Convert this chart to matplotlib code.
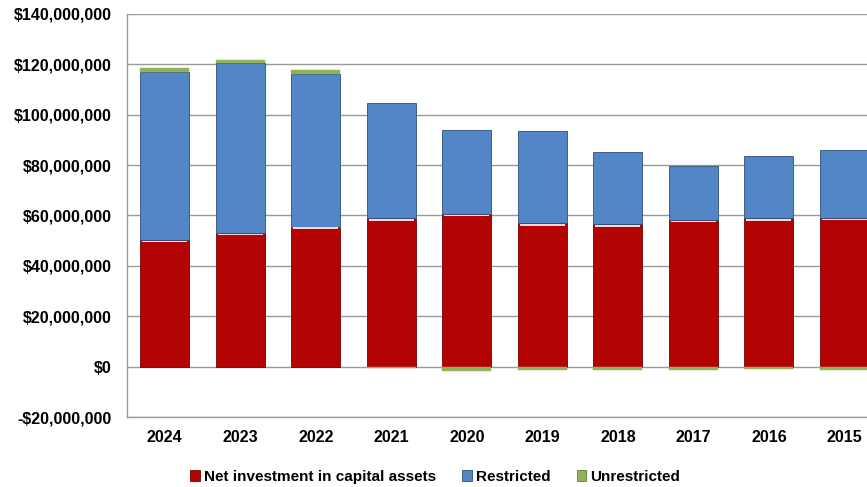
import numpy as np
import matplotlib
matplotlib.use("Agg")
import matplotlib.pyplot as plt
from matplotlib.patches import Patch
from matplotlib.ticker import FuncFormatter

# Net position by fiscal year (millions of dollars)
years = ["2024", "2023", "2022", "2021", "2020", "2019", "2018", "2017", "2016", "2015"]
net_investment = [50.3, 53.0, 55.6, 58.9, 60.6, 56.9, 56.5, 58.2, 58.9, 59.1]
restricted = [66.8, 67.7, 60.6, 45.8, 33.3, 36.5, 28.6, 21.5, 24.7, 26.8]
unrestricted = [1.3, 1.0, 1.5, -0.5, -1.7, -1.5, -1.5, -1.5, -1.0, -1.2]

series_names = ["Net investment in capital assets", "Restricted", "Unrestricted"]
colors = ["#B30303", "#5286C7", "#8FB356"]
edge_colors = ["#7A0000", "#2E4F78", "#5E7A33"]

plt.rcParams["font.family"] = ["Liberation Sans", "DejaVu Sans"]
plt.rcParams["font.weight"] = "bold"

fig = plt.figure(figsize=(8.67, 4.87), dpi=100)
ax = fig.add_axes([0.1465, 0.1437, 0.871, 0.8276])

x = np.arange(len(years))
width = 0.65

net = np.array(net_investment) * 1e6
res = np.array(restricted) * 1e6
unr = np.array(unrestricted) * 1e6

# positive values stack upward, negative ones hang below zero
pos_base = net + res
unr_bottom = np.where(unr >= 0, pos_base, 0.0)

ax.bar(x, net, width, color=colors[0], edgecolor=edge_colors[0], linewidth=0.6, zorder=3)
ax.bar(x, res, width, bottom=net, color=colors[1], edgecolor=edge_colors[1], linewidth=0.6, zorder=3)
ax.bar(x, unr, width, bottom=unr_bottom, color=colors[2], edgecolor=colors[2], linewidth=0.3, zorder=3)

# light bevel highlight along the top of each red segment
ax.bar(x, np.full(len(x), 0.6e6), width * 0.92, bottom=net - 0.9e6, color="white",
       linewidth=0, alpha=0.85, zorder=4)

ax.set_xlim(-0.5, len(years) - 0.5)
ax.set_ylim(-20e6, 140e6)
ax.set_yticks(np.arange(-20e6, 140e6 + 1, 20e6))

def money(v, _):
    if v < 0:
        return "-${:,.0f}".format(-v)
    return "${:,.0f}".format(v)

ax.yaxis.set_major_formatter(FuncFormatter(money))
ax.set_xticks(x)
ax.set_xticklabels(years)

ax.grid(axis="y", color="#9A9A9A", linewidth=1.0, zorder=0)
ax.set_axisbelow(True)
for side in ["top", "right"]:
    ax.spines[side].set_visible(False)
for side in ["left", "bottom"]:
    ax.spines[side].set_color("#9A9A9A")
    ax.spines[side].set_linewidth(1.0)

ax.tick_params(axis="y", length=0, labelsize=11.5, pad=11)
ax.tick_params(axis="x", length=0, labelsize=11.5, pad=9)
for lbl in ax.get_xticklabels() + ax.get_yticklabels():
    lbl.set_fontweight("bold")

handles = [Patch(facecolor=c, edgecolor=e, linewidth=0.6) for c, e in zip(colors, edge_colors)]
fig.legend(handles, series_names, loc="center", bbox_to_anchor=(0.502, 0.021),
           ncol=3, frameon=False, handlelength=0.65, handleheight=0.65,
           handletextpad=0.25, columnspacing=1.7,
           prop={"size": 11, "weight": "bold"})

fig.savefig("out.png", dpi=100)
